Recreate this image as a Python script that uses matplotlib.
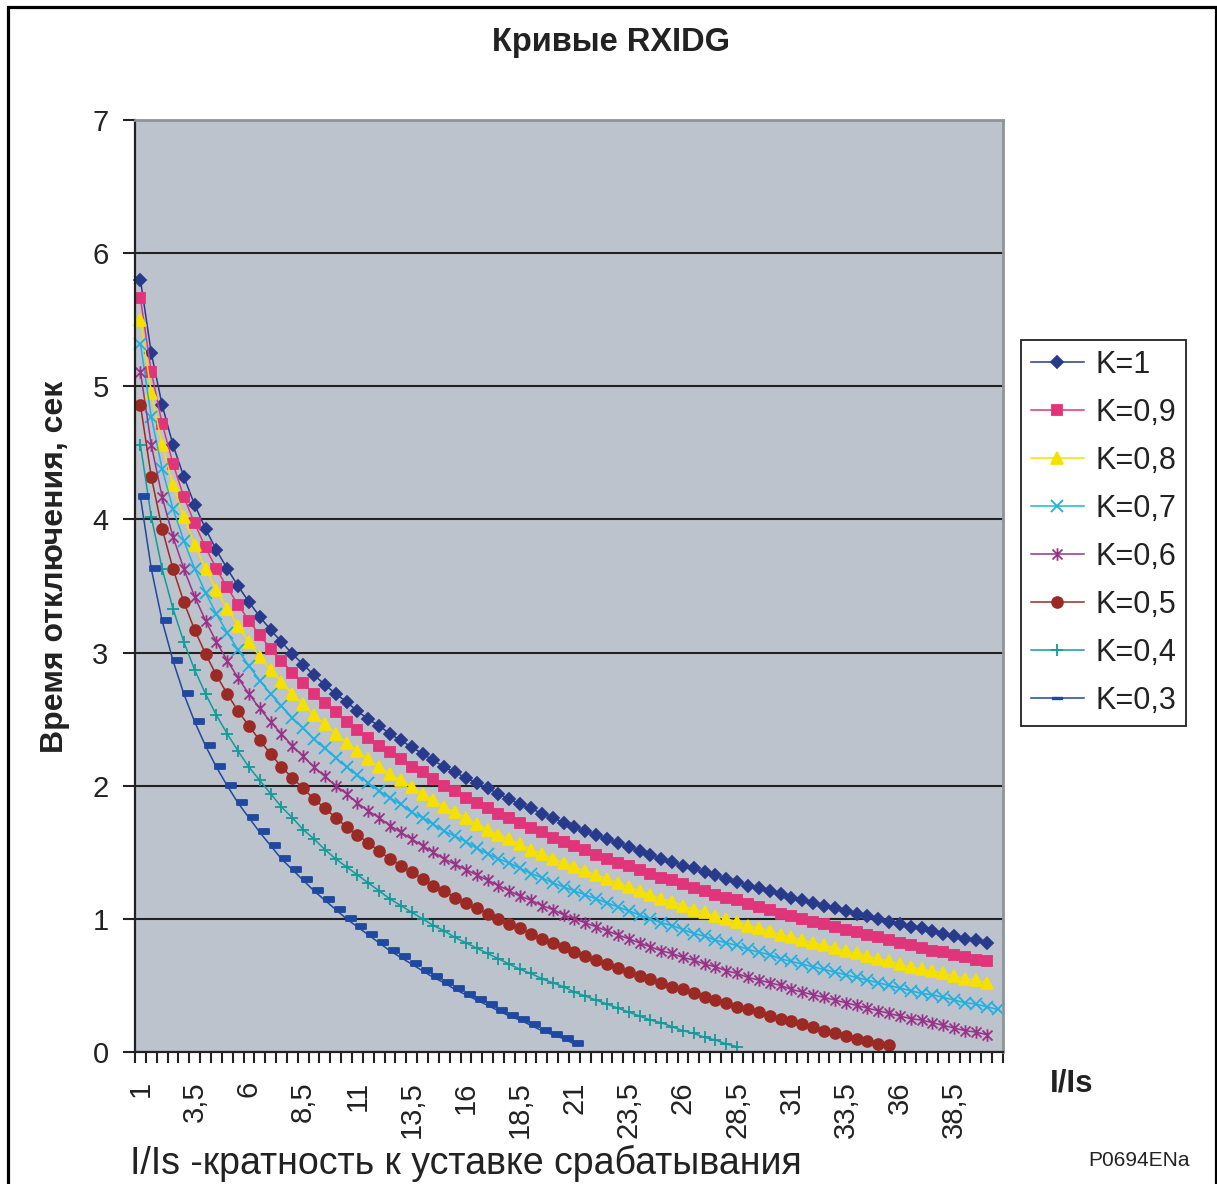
import numpy as np
import matplotlib.pyplot as plt
from matplotlib.path import Path
from matplotlib.lines import Line2D
from matplotlib import patches
from matplotlib.ticker import FixedLocator, NullFormatter

plt.rcParams["font.family"] = ["Liberation Sans", "DejaVu Sans"]

# I/Is categories, 1 ... 40.5 step 0.5
ratio = np.arange(1.0, 41.0, 0.5)

k10 = [5.80, 5.25, 4.86, 4.56, 4.32, 4.11, 3.93, 3.77, 3.63, 3.50, 3.38, 3.27, 3.17, 3.08,
       2.99, 2.91, 2.83, 2.76, 2.69, 2.63, 2.56, 2.50, 2.45, 2.39, 2.34, 2.29, 2.24, 2.19,
       2.14, 2.10, 2.06, 2.02, 1.98, 1.94, 1.90, 1.86, 1.83, 1.79, 1.76, 1.72, 1.69, 1.66,
       1.63, 1.60, 1.57, 1.54, 1.51, 1.48, 1.45, 1.43, 1.40, 1.38, 1.35, 1.33, 1.30, 1.28,
       1.25, 1.23, 1.21, 1.19, 1.16, 1.14, 1.12, 1.10, 1.08, 1.06, 1.04, 1.02, 1.00, 0.98,
       0.96, 0.94, 0.93, 0.91, 0.89, 0.87, 0.85, 0.84, 0.82]
k09 = [5.66, 5.11, 4.72, 4.42, 4.17, 3.97, 3.79, 3.63, 3.49, 3.36, 3.24, 3.13, 3.03, 2.94,
       2.85, 2.77, 2.69, 2.62, 2.55, 2.48, 2.42, 2.36, 2.30, 2.25, 2.20, 2.14, 2.10, 2.05,
       2.00, 1.96, 1.91, 1.87, 1.83, 1.79, 1.76, 1.72, 1.68, 1.65, 1.61, 1.58, 1.55, 1.52,
       1.48, 1.45, 1.42, 1.40, 1.37, 1.34, 1.31, 1.29, 1.26, 1.23, 1.21, 1.18, 1.16, 1.14,
       1.11, 1.09, 1.07, 1.04, 1.02, 1.00, 0.98, 0.96, 0.94, 0.92, 0.90, 0.88, 0.86, 0.84,
       0.82, 0.80, 0.78, 0.76, 0.75, 0.73, 0.71, 0.69, 0.68]
k08 = [5.50, 4.95, 4.56, 4.26, 4.02, 3.81, 3.63, 3.47, 3.33, 3.20, 3.08, 2.97, 2.87, 2.78,
       2.69, 2.61, 2.53, 2.46, 2.39, 2.32, 2.26, 2.20, 2.14, 2.09, 2.04, 1.99, 1.94, 1.89,
       1.84, 1.80, 1.76, 1.71, 1.67, 1.63, 1.60, 1.56, 1.52, 1.49, 1.45, 1.42, 1.39, 1.36,
       1.33, 1.30, 1.27, 1.24, 1.21, 1.18, 1.15, 1.13, 1.10, 1.07, 1.05, 1.02, 1.00, 0.98,
       0.95, 0.93, 0.91, 0.88, 0.86, 0.84, 0.82, 0.80, 0.78, 0.76, 0.74, 0.72, 0.70, 0.68,
       0.66, 0.64, 0.62, 0.61, 0.59, 0.57, 0.55, 0.54, 0.52]
k07 = [5.32, 4.77, 4.38, 4.08, 3.84, 3.63, 3.45, 3.29, 3.15, 3.02, 2.90, 2.79, 2.69, 2.60,
       2.51, 2.43, 2.35, 2.28, 2.21, 2.14, 2.08, 2.02, 1.96, 1.91, 1.86, 1.80, 1.76, 1.71,
       1.66, 1.62, 1.58, 1.53, 1.49, 1.45, 1.42, 1.38, 1.34, 1.31, 1.27, 1.24, 1.21, 1.18,
       1.15, 1.12, 1.09, 1.06, 1.03, 1.00, 0.97, 0.95, 0.92, 0.89, 0.87, 0.84, 0.82, 0.80,
       0.77, 0.75, 0.73, 0.70, 0.68, 0.66, 0.64, 0.62, 0.60, 0.58, 0.56, 0.54, 0.52, 0.50,
       0.48, 0.46, 0.44, 0.43, 0.41, 0.39, 0.37, 0.36, 0.34, 0.32]
k06 = [5.11, 4.56, 4.17, 3.87, 3.63, 3.42, 3.24, 3.08, 2.94, 2.81, 2.69, 2.58, 2.48, 2.39,
       2.30, 2.22, 2.14, 2.07, 2.00, 1.94, 1.87, 1.81, 1.76, 1.70, 1.65, 1.60, 1.55, 1.50,
       1.45, 1.41, 1.37, 1.33, 1.29, 1.25, 1.21, 1.17, 1.14, 1.10, 1.07, 1.03, 1.00, 0.97,
       0.94, 0.91, 0.88, 0.85, 0.82, 0.79, 0.76, 0.74, 0.71, 0.69, 0.66, 0.64, 0.61, 0.59,
       0.56, 0.54, 0.52, 0.50, 0.47, 0.45, 0.43, 0.41, 0.39, 0.37, 0.35, 0.33, 0.31, 0.29,
       0.27, 0.25, 0.24, 0.22, 0.20, 0.18, 0.16, 0.15, 0.13]
k05 = [4.86, 4.32, 3.93, 3.63, 3.38, 3.17, 2.99, 2.83, 2.69, 2.56, 2.45, 2.34, 2.24, 2.14,
       2.06, 1.98, 1.90, 1.83, 1.76, 1.69, 1.63, 1.57, 1.51, 1.45, 1.40, 1.35, 1.30, 1.25,
       1.21, 1.16, 1.12, 1.08, 1.04, 1.00, 0.96, 0.93, 0.89, 0.85, 0.82, 0.79, 0.75, 0.72,
       0.69, 0.66, 0.63, 0.60, 0.57, 0.55, 0.52, 0.49, 0.47, 0.44, 0.41, 0.39, 0.37, 0.34,
       0.32, 0.30, 0.27, 0.25, 0.23, 0.21, 0.19, 0.16, 0.14, 0.12, 0.10, 0.08, 0.06, 0.05]
k04 = [4.56, 4.02, 3.63, 3.33, 3.08, 2.87, 2.69, 2.53, 2.39, 2.26, 2.14, 2.04, 1.94, 1.84,
       1.76, 1.67, 1.60, 1.52, 1.45, 1.39, 1.33, 1.27, 1.21, 1.15, 1.10, 1.05, 1.00, 0.95,
       0.91, 0.86, 0.82, 0.78, 0.74, 0.70, 0.66, 0.62, 0.59, 0.55, 0.52, 0.49, 0.45, 0.42,
       0.39, 0.36, 0.33, 0.30, 0.27, 0.24, 0.22, 0.19, 0.16, 0.14, 0.11, 0.09, 0.06, 0.04]
k03 = [4.17, 3.63, 3.24, 2.94, 2.69, 2.48, 2.30, 2.14, 2.00, 1.87, 1.76, 1.65, 1.55, 1.45,
       1.37, 1.29, 1.21, 1.14, 1.07, 1.00, 0.94, 0.88, 0.82, 0.76, 0.71, 0.66, 0.61, 0.56,
       0.52, 0.47, 0.43, 0.39, 0.35, 0.31, 0.27, 0.24, 0.20, 0.16, 0.13, 0.10, 0.06]

labels = ["K=1", "K=0,9", "K=0,8", "K=0,7", "K=0,6", "K=0,5", "K=0,4", "K=0,3"]
series = [k10, k09, k08, k07, k06, k05, k04, k03]
colors = ["#283a8c", "#e0357a", "#f5e000", "#1fb0e0", "#993388", "#9b2a25", "#139a9a", "#1f48a0"]

# custom markers: asterisk and short dash
star = Path([(0, -1), (0, 1), (-0.8, -0.8), (0.8, 0.8), (-0.8, 0.8), (0.8, -0.8)],
            [Path.MOVETO, Path.LINETO] * 3)
dash = Path([(-0.1, -0.25), (1, -0.25), (1, 0.3), (-0.1, 0.3), (-0.1, -0.25)],
            [Path.MOVETO, Path.LINETO, Path.LINETO, Path.LINETO, Path.CLOSEPOLY])
dash_c = Path([(-1, -0.25), (1, -0.25), (1, 0.3), (-1, 0.3), (-1, -0.25)],
              [Path.MOVETO, Path.LINETO, Path.LINETO, Path.LINETO, Path.CLOSEPOLY])
markers = ["D", "s", "^", "x", star, "o", "+", dash]
msizes = [6.5, 7.2, 8.2, 9, 9, 7.8, 9, 13]

fig = plt.figure(figsize=(12.17, 11.84), dpi=100)
ax = fig.add_axes([135/1217, 1-1052/1184, 868/1217, 932/1184])
ax.set_facecolor("#bcc3cc")

handles = []
for s, lab, c, m, ms in zip(series, labels, colors, markers, msizes):
    ln, = ax.plot(ratio[:len(s)], s, color=c, lw=1.1, marker=m, ms=ms,
                  mec=c, mfc=c, mew=1.3, label=lab, clip_on=False)
    handles.append(ln)
handles[-1] = Line2D([], [], color=colors[-1], lw=1.1, marker=dash_c, ms=6.5,
                     mec=colors[-1], mfc=colors[-1])

ax.set_xlim(0.75, 40.75)
ax.set_ylim(0, 7)
ax.set_yticks(range(0, 8))
ax.yaxis.grid(True, color="#222222", lw=1.5)
ax.set_axisbelow(True)
ax.tick_params(axis="y", labelsize=21, length=9, width=1.5, pad=10, colors="#222222")

ax.set_xticks(ratio[::5])
ax.set_xticklabels([f"{v:g}".replace(".", ",") for v in ratio[::5]], rotation=90)
ax.xaxis.set_minor_locator(FixedLocator(np.arange(0.75, 40.8, 0.5)))
ax.xaxis.set_minor_formatter(NullFormatter())
ax.tick_params(axis="x", which="major", length=0, labelsize=21, pad=21, colors="#222222")
ax.tick_params(axis="x", which="minor", length=8, width=1.5, color="#222222")

for side in ["left", "bottom"]:
    ax.spines[side].set_color("#222222")
    ax.spines[side].set_linewidth(1.6)
for side in ["top", "right"]:
    ax.spines[side].set_color("#8e949b")
    ax.spines[side].set_linewidth(2)

leg = ax.legend(handles=handles, labels=labels, loc="upper left",
                bbox_to_anchor=(1.0207, 0.764), borderaxespad=0, fontsize=22,
                labelspacing=0.59, handlelength=1.75, handletextpad=0.36,
                borderpad=0.32, fancybox=False, framealpha=1, edgecolor="#222222")
leg.get_frame().set_linewidth(1.3)
for t in leg.get_texts():
    t.set_color("#222222")

fig.text(611/1217, 1-42/1184, "Кривые RXIDG", ha="center", va="center",
         fontsize=23.5, fontweight="bold", color="#222222")
fig.text(55/1217, 1-567/1184, "Время отключения, сек", rotation=90, ha="center",
         va="center", fontsize=23, fontweight="bold", color="#222222")
fig.text(130/1217, 1-1163/1184, "I/Is -кратность к уставке срабатывания",
         ha="left", va="center", fontsize=27, color="#222222")
fig.text(1050/1217, 1-1083/1184, "I/Is", ha="left", va="center", fontsize=22.5,
         fontweight="bold", color="#222222")
fig.text(1088/1217, 1-1160/1184, "P0694ENa", ha="left", va="center", fontsize=15,
         color="#222222")

border = patches.Rectangle((7.5/1217, -0.02), (1215.5-7.5)/1217, 1.02-6.5/1184,
                           transform=fig.transFigure, fill=False, lw=2.3,
                           edgecolor="black", clip_on=False)
fig.patches.append(border)

fig.savefig("out.png", dpi=100)
